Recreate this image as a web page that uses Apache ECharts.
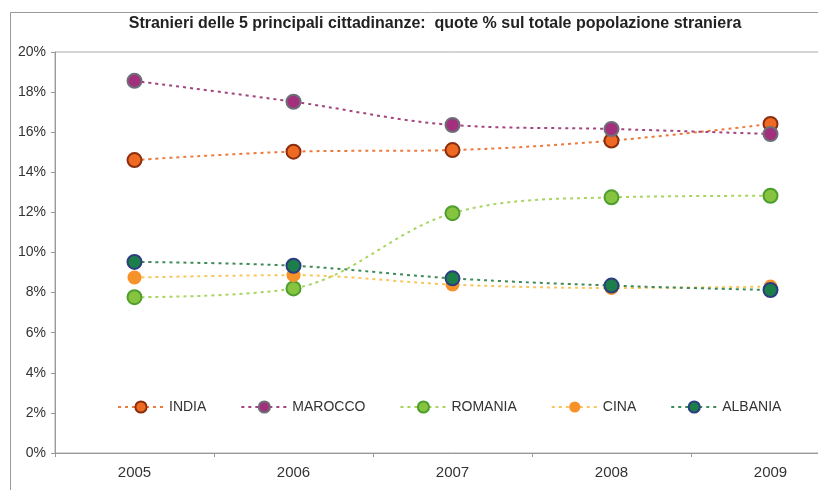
<!DOCTYPE html>
<html><head><meta charset="utf-8">
<script src="https://cdn.jsdelivr.net/npm/echarts@6/dist/echarts.min.js"></script>
<style>html,body{margin:0;padding:0;background:#fff;overflow:hidden;width:818px;height:490px}#c{width:852px;height:490px}</style>
</head><body><div id="c"></div>
<script>
const years = ['2005','2006','2007','2008','2009'];
const india   = [14.61, 15.03, 15.11, 15.58, 16.41];
const marocco = [18.56, 17.52, 16.36, 16.16, 15.91];
const romania = [7.77, 8.21, 11.96, 12.75, 12.83];
const cina    = [8.75, 8.87, 8.40, 8.23, 8.30];
const albania = [9.53, 9.34, 8.71, 8.35, 8.13];
const yTicks = {min: 0, max: 20, interval: 2};

const FF = 'Liberation Sans, Arial, sans-serif';
function mk(name, data, line, fill, border, bw) {
  return {
    name, type: 'line', data, smooth: 0.35,
    symbol: 'circle', symbolSize: 14,
    lineStyle: {color: line, width: 2, type: [3, 4]},
    itemStyle: {color: fill, borderColor: border, borderWidth: bw},
    emphasis: {disabled: true}
  };
}
const chart = echarts.init(document.getElementById('c'));
chart.setOption({
  animation: false,
  backgroundColor: '#fff',
  textStyle: {fontFamily: FF},
  title: {
    text: 'Stranieri delle 5 principali cittadinanze:  quote % sul totale popolazione straniera',
    left: 430, top: 11, textAlign: 'center',
    textStyle: {fontSize: 16, fontWeight: 'bold', color: '#222', fontFamily: FF}
  },
  graphic: [{type: 'rect', shape: {x: 10.5, y: 12.5, width: 900, height: 600}, style: {fill: 'none', stroke: '#999', lineWidth: 1}, silent: true}],
  grid: {left: 55, top: 52, width: 795, height: 401, show: true, borderColor: '#aaa', borderWidth: 1},
  legend: {
    left: 117, top: 400, padding: 0, itemWidth: 46, itemHeight: 14, itemGap: 34,
    textStyle: {fontSize: 14, color: '#333'},
    data: ['INDIA', 'MAROCCO', 'ROMANIA', 'CINA', 'ALBANIA']
  },
  xAxis: {
    type: 'category', data: years, boundaryGap: true,
    axisLine: {lineStyle: {color: '#999'}},
    axisTick: {show: true, length: 4, lineStyle: {color: '#999'}},
    axisLabel: {color: '#333', fontSize: 15, margin: 12}
  },
  yAxis: {
    type: 'value', min: yTicks.min, max: yTicks.max, interval: yTicks.interval,
    axisLine: {show: true, lineStyle: {color: '#999'}},
    axisTick: {show: true, length: 4, lineStyle: {color: '#999'}},
    splitLine: {show: false},
    axisLabel: {formatter: '{value}%', color: '#333', fontSize: 14, margin: 9}
  },
  series: [
    mk('INDIA', india, '#EC7A3C', '#EE6A22', '#8A2E10', 2),
    mk('MAROCCO', marocco, '#A2457E', '#A3307C', '#6E6E78', 2),
    mk('ROMANIA', romania, '#A9D460', '#86C440', '#4E9E2E', 2),
    mk('CINA', cina, '#F8C65C', '#F7922A', '#F7922A', 0),
    mk('ALBANIA', albania, '#3E8A58', '#1C7E48', '#2C3E80', 2)
  ]
});
</script></body></html>
